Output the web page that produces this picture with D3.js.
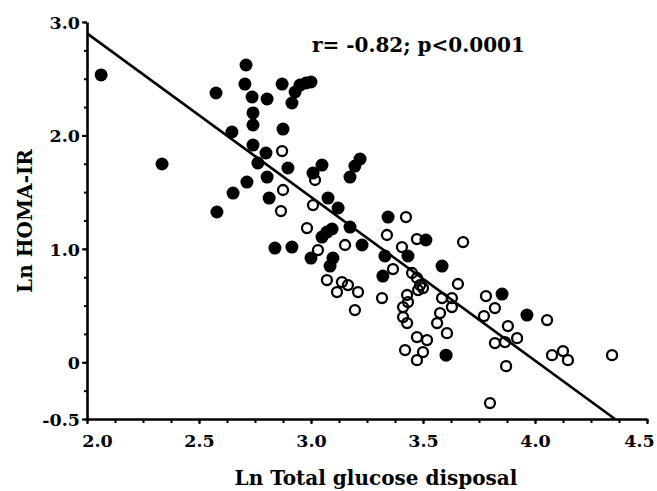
<!DOCTYPE html>
<html>
<head>
<meta charset="utf-8">
<script src="https://cdn.jsdelivr.net/npm/d3@7"></script>
<style>
  html, body { margin: 0; padding: 0; background: #fff; }
  svg { display: block; }
  text { font-family: "DejaVu Serif", serif; font-weight: bold; fill: #000; }
</style>
</head>
<body>
<svg id="chart" width="657" height="491"></svg>
<script>
// ---- data ----
const filledX = [2.063, 2.335, 2.576, 2.710, 2.705, 2.737, 2.804, 2.871, 2.951, 2.978, 3.000, 2.929, 2.915,
  2.741, 2.741, 2.875, 2.647, 2.741, 2.799, 2.763, 2.804, 2.897, 2.714, 2.652, 2.580, 2.813,
  3.049, 3.009, 3.219, 3.196, 3.174, 3.076, 3.121, 3.174, 3.071, 3.049, 3.094, 3.344, 3.513,
  3.228, 2.839, 2.915, 3.000, 3.098, 3.085, 3.330, 3.321, 3.433, 3.585, 3.603, 3.853, 3.964];
const filledY = [2.533, 1.748, 2.374, 2.621, 2.453, 2.339, 2.321, 2.453, 2.444, 2.462, 2.471, 2.383, 2.286,
  2.198, 2.092, 2.056, 2.030, 1.915, 1.845, 1.757, 1.633, 1.713, 1.589, 1.492, 1.325, 1.448,
  1.739, 1.668, 1.792, 1.730, 1.633, 1.448, 1.360, 1.192, 1.148, 1.104, 1.175, 1.280, 1.078,
  1.034, 1.007, 1.016, 0.919, 0.919, 0.848, 0.937, 0.760, 0.937, 0.848, 0.063, 0.601, 0.416];

const openX = [2.871, 2.875, 2.866, 3.009, 2.982, 3.018, 3.424, 3.339, 3.473, 3.152, 3.406, 3.031, 3.679,
  3.071, 3.138, 3.165, 3.116, 3.210, 3.196, 3.317, 3.366, 3.451, 3.473, 3.487, 3.500, 3.478,
  3.656, 3.429, 3.433, 3.411, 3.585, 3.629, 3.629, 3.411, 3.429, 3.576, 3.563, 3.607, 3.473,
  3.518, 3.420, 3.500, 3.473, 3.781, 3.821, 3.772, 3.879, 3.821, 3.866, 3.920, 3.871, 4.054,
  4.076, 4.125, 4.147, 4.344, 3.799];
const openY = [1.862, 1.519, 1.333, 1.386, 1.183, 1.607, 1.280, 1.122, 1.086, 1.034, 1.016, 0.989, 1.060,
  0.725, 0.707, 0.681, 0.619, 0.619, 0.460, 0.566, 0.822, 0.787, 0.743, 0.681, 0.654, 0.637,
  0.690, 0.593, 0.531, 0.487, 0.566, 0.566, 0.487, 0.399, 0.346, 0.434, 0.346, 0.257, 0.222,
  0.196, 0.108, 0.090, 0.019, 0.584, 0.478, 0.407, 0.319, 0.169, 0.178, 0.213, -0.034, 0.372,
  0.063, 0.099, 0.019, 0.063, -0.360];

const regX = [2.0, 4.357];
const regY = [2.90, -0.50];

const xTickValues = [2.0, 2.5, 3.0, 3.5, 4.0, 4.5];
const xTickLabels = ["2.0", "2.5", "3.0", "3.5", "4.0", "4.5"];
const yTickValues = [3.0, 2.0, 1.0, 0, -0.5];
const yTickLabels = ["3.0", "2.0", "1.0", "0", "-0.5"];
const xMinorTicks = d3.range(2.0, 4.5001, 0.125);
const yMinorTicks = d3.range(-0.5, 3.0001, 0.25);

const xTitle = "Ln Total glucose disposal";
const yTitle = "Ln HOMA-IR";
const statText = "r= -0.82; p<0.0001";

// ---- drawing ----
const svg = d3.select("#chart");
const x = d3.scaleLinear().domain([2.0, 4.5]).range([87, 647]);
const y = d3.scaleLinear().domain([-0.5, 3.0]).range([419, 22]);

// minor ticks
svg.append("g").attr("transform", `translate(0,${y(-0.5)})`)
  .call(d3.axisBottom(x).tickValues(xMinorTicks).tickSize(4).tickFormat(""))
  .call(g => g.select(".domain").remove())
  .selectAll("line").attr("stroke", "#000").attr("stroke-width", 2);
svg.append("g").attr("transform", `translate(${x(2.0)},0)`)
  .call(d3.axisLeft(y).tickValues(yMinorTicks).tickSize(3).tickFormat(""))
  .call(g => g.select(".domain").remove())
  .selectAll("line").attr("stroke", "#000").attr("stroke-width", 2);

// major axes
const xAxis = svg.append("g").attr("transform", `translate(0,${y(-0.5)})`)
  .call(d3.axisBottom(x).tickValues(xTickValues).tickSize(5).tickSizeOuter(0)
    .tickFormat((d, i) => xTickLabels[i]));
xAxis.select(".domain").attr("stroke", "#000").attr("stroke-width", 2.6);
xAxis.selectAll("line").attr("stroke", "#000").attr("stroke-width", 2);
const nX = xTickValues.length;
xAxis.selectAll("text").attr("font-size", 17.5).attr("font-family", "DejaVu Serif")
  .attr("font-weight", "bold").attr("y", 16).attr("dy", "0.71em")
  .attr("dx", (d, i) => i === 0 ? 10 : (i === nX - 1 ? -8 : 0));

const yAxis = svg.append("g").attr("transform", `translate(${x(2.0)},0)`)
  .call(d3.axisLeft(y).tickValues(yTickValues).tickSize(5).tickSizeOuter(0)
    .tickFormat((d, i) => yTickLabels[i]));
yAxis.select(".domain").attr("stroke", "#000").attr("stroke-width", 2.6);
yAxis.selectAll("line").attr("stroke", "#000").attr("stroke-width", 2);
yAxis.selectAll("text").attr("font-size", 17.5).attr("font-family", "DejaVu Serif")
  .attr("font-weight", "bold").attr("x", -7).attr("dy", "0.36em");

// regression line
svg.append("path")
  .datum(regX.map((v, i) => [v, regY[i]]))
  .attr("fill", "none").attr("stroke", "#000").attr("stroke-width", 2.6)
  .attr("d", d3.line().x(d => x(d[0])).y(d => y(d[1])));

// open circles
svg.append("g").selectAll("circle")
  .data(openX.map((v, i) => [v, openY[i]]))
  .join("circle")
  .attr("cx", d => x(d[0])).attr("cy", d => y(d[1])).attr("r", 5)
  .attr("fill", "none").attr("stroke", "#000").attr("stroke-width", 2.3);

// filled circles
svg.append("g").selectAll("circle")
  .data(filledX.map((v, i) => [v, filledY[i]]))
  .join("circle")
  .attr("cx", d => x(d[0])).attr("cy", d => y(d[1])).attr("r", 6.5)
  .attr("fill", "#000");

// stat text
svg.append("text").attr("x", 312).attr("y", 52)
  .attr("font-size", 20).text(statText);

// axis titles
svg.append("text").attr("x", (x(2.0) + x(4.5)) / 2 + 9).attr("y", 485)
  .attr("text-anchor", "middle").attr("font-size", 20).text(xTitle);
svg.append("text")
  .attr("transform", `translate(32,${221}) rotate(-90)`)
  .attr("text-anchor", "middle").attr("font-size", 20).text(yTitle);
</script>
</body>
</html>
